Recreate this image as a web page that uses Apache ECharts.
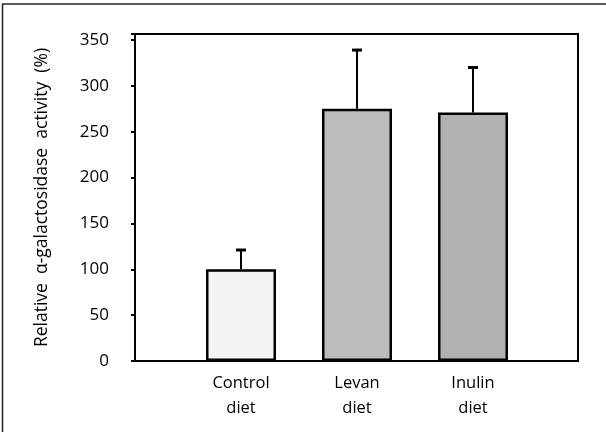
<!DOCTYPE html>
<html lang="en">

<head>
    <meta charset="UTF-8">
    <script src="https://cdn.jsdelivr.net/npm/echarts@6/dist/echarts.min.js"></script>
    <title>Document</title>
    <style>
        body { margin: 0; background: #fff; }
    </style>
</head>

<body>
    <div id="main" style="height: 432px;width: 606px;"></div>

    <script>
        // data
        var categories = ['Control\ndiet', 'Levan\ndiet', 'Inulin\ndiet'];
        var means = [100, 275, 271];
        var errTop = [121, 339, 320];
        var barColors = ['#f3f3f3', '#bdbdbd', '#b1b1b1'];
        var yMin = 0, yMax = 356.5, yStep = 50;

        var font = 'Open Sans';
        var chartDom = document.getElementById('main');
        var myChart = echarts.init(chartDom);
        var option;
        option = {
            animation: false,
            backgroundColor: '#fff',
            textStyle: { fontFamily: font },
            grid: [
                // outer frame with the y axis
                { left: 135, right: 28, top: 34, bottom: 71, show: true, borderColor: '#000', borderWidth: 2 },
                // bars sit in a narrower band inside the frame
                { left: 183, right: 75, top: 34, bottom: 71 }
            ],
            xAxis: [
                { gridIndex: 0, type: 'value', show: false, min: 0, max: 1 },
                {
                    gridIndex: 1,
                    type: 'category',
                    data: categories,
                    axisLine: { show: false },
                    axisTick: { show: false },
                    axisLabel: { color: '#000', fontSize: 16.5, lineHeight: 25, margin: 10, fontFamily: font }
                }
            ],
            yAxis: [
                {
                    gridIndex: 0,
                    type: 'value',
                    min: yMin,
                    max: yMax,
                    interval: yStep,
                    splitLine: { show: false },
                    axisLine: { show: true, lineStyle: { color: '#000', width: 2 } },
                    axisTick: { show: true, length: 4, lineStyle: { color: '#000', width: 2 } },
                    axisLabel: {
                        color: '#000', fontSize: 17, margin: 26, fontFamily: font,
                        formatter: function (v) { return v % yStep === 0 ? v : ''; }
                    },
                    name: 'Relative  \u03b1-galactosidase  activity  (%)',
                    nameLocation: 'middle',
                    nameGap: 84,
                    nameTextStyle: { color: '#000', fontSize: 17.5, fontFamily: font }
                },
                { gridIndex: 1, type: 'value', min: yMin, max: yMax, show: false }
            ],
            series: [
                {
                    type: 'bar',
                    xAxisIndex: 1,
                    yAxisIndex: 1,
                    barWidth: 70,
                    data: means.map(function (v, i) {
                        return { value: v, itemStyle: { color: barColors[i] } };
                    }),
                    itemStyle: { borderColor: '#000', borderWidth: 2.5 }
                },
                {
                    // upper error bars
                    type: 'custom',
                    xAxisIndex: 1,
                    yAxisIndex: 1,
                    z: 1,
                    data: means.map(function (v, i) { return [i, v, errTop[i]]; }),
                    encode: { x: 0, y: [1, 2] },
                    renderItem: function (params, api) {
                        var base = api.coord([api.value(0), api.value(1)]);
                        var top = api.coord([api.value(0), api.value(2)]);
                        return {
                            type: 'group',
                            children: [
                                { type: 'line', shape: { x1: top[0], y1: base[1], x2: top[0], y2: top[1] }, style: { stroke: '#000', lineWidth: 2 } },
                                { type: 'line', shape: { x1: top[0] - 5, y1: top[1], x2: top[0] + 5, y2: top[1] }, style: { stroke: '#000', lineWidth: 3 } }
                            ]
                        };
                    }
                }
            ],
            graphic: [
                // page border of the scanned figure
                { type: 'line', shape: { x1: 2.5, y1: 4, x2: 2.5, y2: 432 }, style: { stroke: '#222', lineWidth: 1.5 } },
                { type: 'line', shape: { x1: 2, y1: 4, x2: 606, y2: 4 }, style: { stroke: '#222', lineWidth: 1.5 } }
            ]
        };
        myChart.setOption(option);

    </script>
</body>

</html>
